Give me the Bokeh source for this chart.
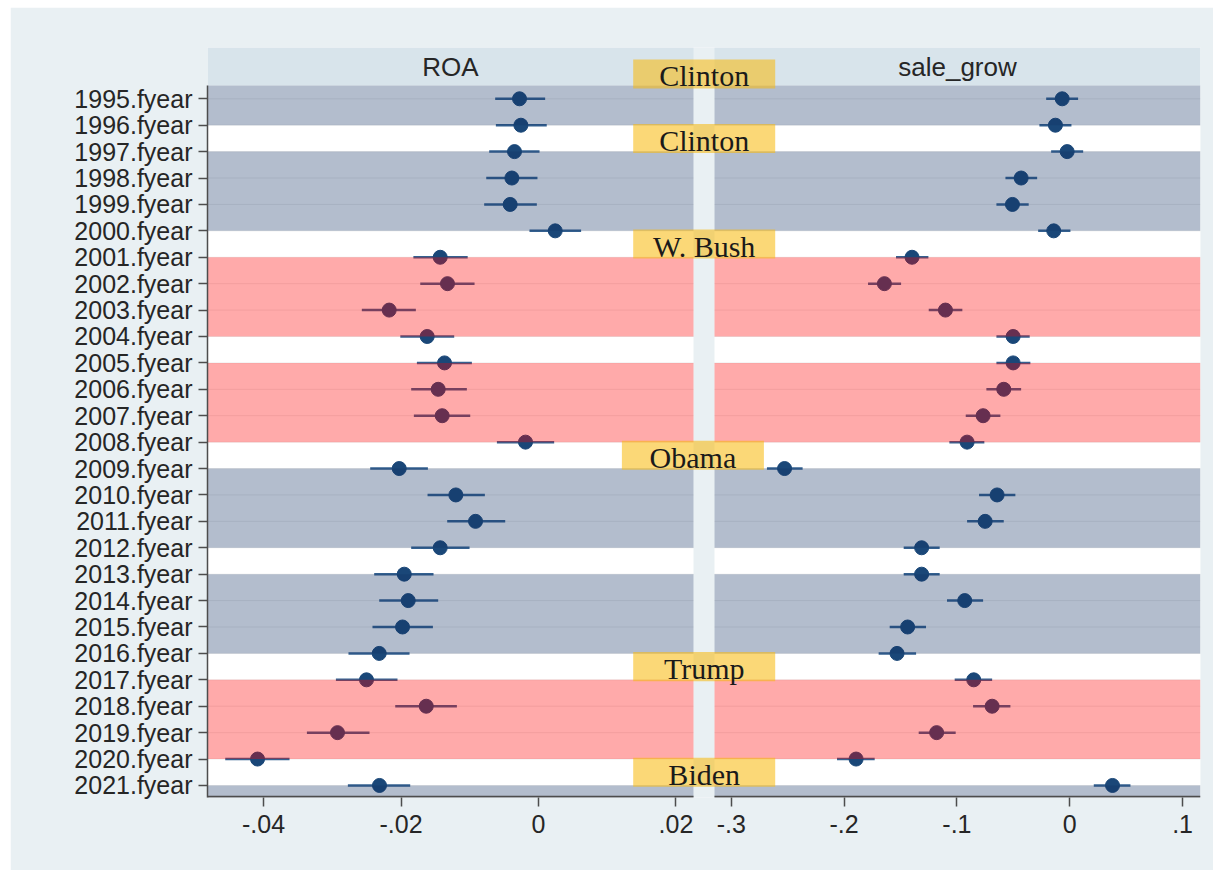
from bokeh.plotting import figure
from bokeh.layouts import column, row
from bokeh.models import Range1d, LinearAxis, FixedTicker, CustomJSTickFormatter, Spacer
from bokeh.core.properties import value
from bokeh.embed import file_html
from bokeh.resources import INLINE

# ---------------- data ----------------
years = list(range(1995, 2022))
year_labels = [f"{y}.fyear" for y in years]

roa_coef = [-0.00276, -0.00256, -0.00349, -0.00387, -0.00412, 0.00243, -0.0143, -0.01324,
            -0.02172, -0.01619, -0.01367, -0.01459, -0.01401, -0.00189, -0.02026, -0.01202,
            -0.00916, -0.0143, -0.01953, -0.01895, -0.01978, -0.02317, -0.02502, -0.01633,
            -0.02924, -0.04087, -0.02313]
roa_lo = [-0.0063, -0.0062, -0.00717, -0.0076, -0.0079, -0.00131, -0.0182, -0.0172,
          -0.0257, -0.0201, -0.01769, -0.01852, -0.01813, -0.00605, -0.02448, -0.01614,
          -0.01328, -0.01852, -0.0239, -0.02317, -0.02415, -0.02764, -0.02947, -0.02084,
          -0.03369, -0.04557, -0.02773]
roa_hi = [0.00097, 0.0012, 0.00015, -0.00015, -0.00024, 0.0062, -0.0103, -0.0093,
          -0.01784, -0.01226, -0.00969, -0.01042, -0.00993, 0.00228, -0.01609, -0.0078,
          -0.00484, -0.01003, -0.01527, -0.01459, -0.01536, -0.01876, -0.02051, -0.01187,
          -0.02458, -0.03622, -0.01866]

sale_coef = [-0.0067, -0.0127, -0.0023, -0.0431, -0.0508, -0.0142, -0.1398, -0.1643,
             -0.1102, -0.0502, -0.0502, -0.0585, -0.0768, -0.0910, -0.2528, -0.0644,
             -0.0750, -0.1313, -0.1313, -0.0931, -0.1437, -0.1531, -0.0851, -0.0688,
             -0.1180, -0.1894, 0.0379]
sale_lo = [-0.0209, -0.0269, -0.0165, -0.0570, -0.0650, -0.0280, -0.1540, -0.1788,
           -0.1250, -0.0650, -0.0650, -0.0739, -0.0922, -0.1067, -0.2684, -0.0804,
           -0.0910, -0.1472, -0.1472, -0.1088, -0.1596, -0.1694, -0.1020, -0.0857,
           -0.1339, -0.2063, 0.0213]
sale_hi = [0.0074, 0.0015, 0.0119, -0.0289, -0.0364, 0.0006, -0.1253, -0.1495,
           -0.0952, -0.0355, -0.0349, -0.0431, -0.0615, -0.0757, -0.2368, -0.0482,
           -0.0585, -0.1153, -0.1153, -0.0768, -0.1274, -0.1362, -0.0688, -0.0526,
           -0.1011, -0.1729, 0.0538]

roa_ticks = [-0.04, -0.02, 0.0, 0.02]
sale_ticks = [-0.3, -0.2, -0.1, 0.0, 0.1]
panel_titles = ["ROA", "sale_grow"]

term_start = [1993, 1997, 2001, 2005, 2009, 2013, 2017, 2021]
term_party = ["D", "D", "R", "R", "D", "D", "R", "D"]
pres_names = ["Clinton", "Clinton", "W. Bush", "Obama", "Trump", "Biden"]
pres_label_year = [1993, 1997, 2001, 2009, 2017, 2021]

# ---------------- layout constants ----------------
ROA_LIM = (-0.04815, 0.02255)
SALE_LIM = (-0.3149, 0.1159)
PANEL_W = 486
GAP = 21
FRAME_W = 2 * PANEL_W + GAP
ROW_TOP = -0.9424
ROW_BOTTOM = 27.456
PLOT_TOP = 0.5
HEADER_LABEL_ROW = 0.06
BOX_LEFT_PX = [425.7, 425.7, 425.7, 414.4, 425.7, 425.7]
BOX_W_PX = 142
BOX_HALF = 0.55

BG = "#e9f0f3"
HEADER = "#d8e4eb"
AXIS_C = "#4d4d4d"
TEXT_C = "#262626"
POINT_C = "#1a4778"
CI_C = "#34608f"
PARTY_COLOR = {"D": "#143264", "R": "#ff0000"}
PARTY_ALPHA = {"D": 0.32, "R": 0.335}

k1 = PANEL_W / (ROA_LIM[1] - ROA_LIM[0])
k2 = PANEL_W / (SALE_LIM[1] - SALE_LIM[0])
r0 = ROA_LIM[0]
r1 = r0 + FRAME_W / k1
s1 = SALE_LIM[1]
s0 = s1 - FRAME_W / k2

rows = [y - 1994 for y in years]

FIG_W, FIG_H = 1203, 863
BORDER_L, BORDER_T, BORDER_B = 197, 40, 73

p = figure(width=FIG_W, height=FIG_H, x_range=Range1d(r0, r1),
           y_range=Range1d(ROW_BOTTOM, ROW_TOP),
           output_backend="svg", toolbar_location=None, title=None,
           x_axis_location=None, y_axis_location=None)
p.extra_x_ranges = {"sale": Range1d(s0, s1)}
p.min_border_left = BORDER_L
p.min_border_right = FIG_W - BORDER_L - FRAME_W
p.min_border_top = BORDER_T
p.min_border_bottom = BORDER_B
p.background_fill_color = BG
p.border_fill_color = BG
p.outline_line_color = None
for g in p.grid:
    g.visible = False

panels = [("default", ROA_LIM, roa_coef, roa_lo, roa_hi),
          ("sale", SALE_LIM, sale_coef, sale_lo, sale_hi)]

# header strips and white plot area
for rn, lim, *_ in panels:
    p.quad(left=[lim[0]], right=[lim[1]], top=[ROW_TOP], bottom=[PLOT_TOP],
           fill_color=HEADER, line_color=None, x_range_name=rn)
    p.quad(left=[lim[0]], right=[lim[1]], top=[PLOT_TOP], bottom=[ROW_BOTTOM],
           fill_color="white", line_color=None, x_range_name=rn)
    p.segment(x0=[lim[0]] * len(rows), x1=[lim[1]] * len(rows), y0=rows, y1=rows,
              line_color="#000000", line_alpha=0.07, line_width=1, x_range_name=rn)

# estimates
for rn, lim, coef, lo, hi in panels:
    p.segment(x0=lo, x1=hi, y0=rows, y1=rows, line_color=CI_C, line_width=2.5,
              x_range_name=rn)
    p.scatter(x=coef, y=rows, size=14, fill_color=POINT_C, line_color=POINT_C,
              x_range_name=rn)

# party bands (translucent, over the estimates)
for rn, lim, *_ in panels:
    for st, party in zip(term_start, term_party):
        top = max(st - 1994, PLOT_TOP)
        bot = min(st + 3 - 1994, ROW_BOTTOM)
        if bot <= top:
            continue
        p.quad(left=[lim[0]], right=[lim[1]], top=[top], bottom=[bot],
               fill_color=PARTY_COLOR[party], fill_alpha=PARTY_ALPHA[party],
               line_color=None, x_range_name=rn)

# x axis lines per panel
AX_Y = ROW_BOTTOM - 0.03
for rn, lim, *_ in panels:
    p.segment(x0=[lim[0]], x1=[lim[1]], y0=[AX_Y], y1=[AX_Y], line_color=AXIS_C,
              line_width=2, x_range_name=rn)

# panel titles
HEAD_Y = (ROW_TOP + PLOT_TOP) / 2
for (rn, lim, *_), t in zip(panels, panel_titles):
    p.text(x=[(lim[0] + lim[1]) / 2], y=[HEAD_Y], text=[t], text_align="center",
           text_baseline="middle", text_font=value("Liberation Sans"),
           text_font_size=value("26px"), text_color=TEXT_C, x_range_name=rn)

# president label boxes
lab_rows = [max(y - 1994 - 0.5, HEADER_LABEL_ROW) for y in pres_label_year]
bl = [r0 + px / k1 for px in BOX_LEFT_PX]
br = [b + BOX_W_PX / k1 for b in bl]
p.quad(left=bl, right=br, top=[r - BOX_HALF for r in lab_rows],
       bottom=[r + BOX_HALF for r in lab_rows],
       fill_color="#f8ba0d", fill_alpha=0.56, line_color=None)
p.text(x=[(a + b) / 2 for a, b in zip(bl, br)], y=lab_rows, text=pres_names,
       text_align="center", text_baseline="middle", y_offset=2,
       text_font=value("Liberation Serif"), text_font_size=value("30px"),
       text_color="#1a1a1a")

# axes
xticks = list(roa_ticks) + [r0 + (t - s0) * k2 / k1 for t in sale_ticks]
thr = ROA_LIM[1] + (GAP / 2) / k1
fmt = CustomJSTickFormatter(args=dict(thr=thr, r0=r0, s0=s0, ratio=k1 / k2), code="""
    let v = tick;
    if (tick > thr) { v = s0 + (tick - r0) * ratio; }
    v = Math.round(v * 10000) / 10000;
    let s = String(v);
    if (s === "-0") { s = "0"; }
    s = s.replace(/^(-?)0\\./, "$1.");
    return s;
""")
xaxis = LinearAxis(ticker=FixedTicker(ticks=xticks), formatter=fmt)
xaxis.axis_line_color = None
xaxis.major_tick_line_color = AXIS_C
xaxis.major_tick_line_width = 1.5
xaxis.major_tick_out = 9
xaxis.major_tick_in = 0
xaxis.minor_tick_line_color = None
xaxis.major_label_standoff = 8
xaxis.major_label_text_font = "Liberation Sans"
xaxis.major_label_text_font_size = "25px"
xaxis.major_label_text_color = TEXT_C
p.add_layout(xaxis, "below")

yaxis = LinearAxis(ticker=FixedTicker(ticks=rows),
                   major_label_overrides={r: lab for r, lab in zip(rows, year_labels)})
yaxis.bounds = (PLOT_TOP, ROW_BOTTOM)
yaxis.axis_line_color = AXIS_C
yaxis.axis_line_width = 1.5
yaxis.major_tick_line_color = AXIS_C
yaxis.major_tick_line_width = 1.5
yaxis.major_tick_out = 9
yaxis.major_tick_in = 0
yaxis.minor_tick_line_color = None
yaxis.major_label_standoff = 6
yaxis.major_label_text_font = "Liberation Sans"
yaxis.major_label_text_font_size = "25px"
yaxis.major_label_text_color = TEXT_C
p.add_layout(yaxis, "left")

layout = column(Spacer(height=7), row(Spacer(width=10), p))
open("out.html", "w").write(file_html(layout, INLINE))
